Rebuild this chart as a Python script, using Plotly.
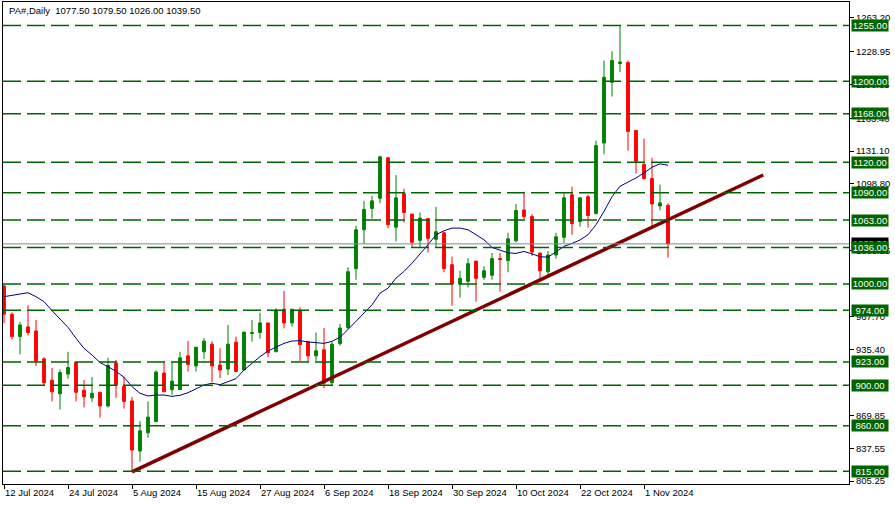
import plotly.graph_objects as go

# ---------------- data ----------------
tick_bars = [0, 8, 16, 24, 32, 40, 48, 56, 64, 72, 80]
tick_labels = ["12 Jul 2024", "24 Jul 2024", "5 Aug 2024", "15 Aug 2024", "27 Aug 2024",
               "6 Sep 2024", "18 Sep 2024", "30 Sep 2024", "10 Oct 2024", "22 Oct 2024", "1 Nov 2024"]

opens = [998, 970, 948, 957.5, 953.5, 926, 905, 891.5, 911, 922.5,
         895, 887.5, 893, 879.5, 922, 899, 884.5, 835, 853, 864,
         912, 895.5, 895.5, 929, 919, 933, 940.5, 920, 916, 942.5,
         915, 951, 952, 961.5, 933, 975, 961.5, 973.5, 943, 929,
         935, 902.5, 941, 957, 1015, 1053.5, 1074.5, 1084.5, 1124.5, 1056,
         1089, 1069, 1043, 1064.5, 1044, 1050.5, 1019, 1000, 1002.5, 1022.5,
         1006.5, 1008.5, 1025, 1023, 1042.5, 1073, 1066.5, 1030.5, 1012, 1028.5,
         1046, 1088, 1061.5, 1086, 1069.5, 1139, 1199, 1217.5, 1218.5, 1151.5,
         1118, 1104, 1077, 1077.5]
highs = [999, 972, 962.5, 979, 964.5, 927.5, 917, 915.5, 933, 922.5,
         905, 908, 893, 927, 925, 908.5, 888.5, 864.5, 884, 914.5,
         924, 923, 933, 943.5, 937.5, 946.5, 943.5, 936.5, 959.5, 948,
         952.5, 964.5, 971.5, 961.5, 976, 993, 975, 977, 943, 952,
         956.5, 942.5, 960.5, 1016.5, 1057.5, 1082, 1087, 1126.5, 1125.5, 1107.5,
         1094, 1069, 1070.5, 1065, 1076, 1051.5, 1027, 1013, 1025.5, 1022.5,
         1017.5, 1030.5, 1030.5, 1050.5, 1079, 1091, 1069, 1030.5, 1032.5, 1050.5,
         1089.5, 1096, 1085, 1088, 1141.5, 1220.5, 1229.5, 1255, 1220.5, 1151.5,
         1143.5, 1124.5, 1098, 1079.5]
lows = [961, 945.5, 930.5, 949, 919, 900, 884, 876, 906.5, 884,
        878, 883.5, 868, 878, 887.5, 877, 814, 824.5, 848, 864,
        893.5, 890.5, 895.5, 913.5, 913.5, 926, 903, 907, 910, 913.5,
        915, 943, 946, 927.5, 933, 956, 958, 924, 922.5, 924,
        897, 899.5, 939, 955, 1004, 1039.5, 1064.5, 1079.5, 1055, 1042,
        1060.5, 1036.5, 1036.5, 1031, 1036.5, 1011.5, 978.5, 986.5, 996.5, 982.5,
        1004, 1004, 992.5, 1011.5, 1041, 1064, 1027.5, 1004, 1008.5, 1025,
        1040.5, 1048.5, 1056.5, 1055.5, 1068.5, 1128, 1185, 1209, 1131.5, 1109,
        1103, 1056.5, 1072.5, 1026]
closes = [970, 948, 959.5, 952, 924, 902.5, 893.5, 912.5, 917.5, 893,
          888.5, 892, 879.5, 919.5, 900, 884, 836, 855, 868.5, 913,
          893.5, 904, 927, 920.5, 937.5, 943.5, 919, 915, 940.5, 913.5,
          952.5, 952, 961.5, 932, 974, 961.5, 975, 940, 929, 934,
          902, 940.5, 956.5, 1012, 1053.5, 1073.5, 1082, 1125.5, 1058.5, 1085,
          1070.5, 1041, 1065, 1045, 1051.5, 1015, 1000, 1005.5, 1020, 1005.5,
          1013, 1025, 1024, 1044.5, 1072.5, 1066.5, 1031.5, 1013, 1028.5, 1046.5,
          1085, 1059.5, 1085, 1067.5, 1136.5, 1204, 1220.5, 1219, 1150.5, 1121,
          1104, 1079, 1080, 1039.5]
ma_values = [987.4, 988.7, 990, 991.3, 987.4, 982.5, 973.6, 965.4, 957.1, 946.3,
             936.4, 929.8, 922.3, 918.3, 913.7, 907.8, 898.6, 892, 889.4, 890.3,
             890.3, 889, 890, 892.6, 896.6, 900.2, 901.9, 900.5, 903.5, 906.5,
             915, 921.6, 928.2, 933.8, 937.4, 941.3, 943.6, 944, 942.7, 942.3,
             941.3, 943.3, 947.3, 955, 963, 970.4, 979.3, 990.8, 995.8, 1005.7,
             1012.3, 1020.5, 1029.4, 1038.6, 1048.5, 1052.5, 1055.1, 1055.1, 1053.5, 1048.5,
             1043.6, 1036, 1033.4, 1030.7, 1030.1, 1032, 1029.7, 1026.8, 1026.4, 1031.4,
             1037, 1040, 1043.3, 1048.5, 1058.4, 1071.6, 1086.1, 1096.4, 1100.3, 1104.6,
             1109.5, 1115.2, 1118.5, 1117.1]

trend_bars = [16, 94.9]
trend_prices = [814.5, 1107.5]

levels = [1255, 1200, 1168, 1120, 1090, 1063, 1036, 1000, 974, 923, 900, 860, 815]
bid_price = 1039.5
price_ticks = [1263.20, 1228.95, 1196.65, 1163.40, 1131.10, 1098.80, 1033.25,
               967.70, 935.40, 869.85, 837.55, 805.25]
title_text = "PA#,Daily&nbsp; 1077.50 1079.50 1026.00 1039.50"

# ---------------- styles ----------------
FONT = "Liberation Sans"
BULL = "#008000"
BEAR = "#FF0000"
LEVEL = "#006400"

bars = list(range(len(opens)))

fig = go.Figure()
fig.add_trace(go.Candlestick(
    x=bars, open=opens, high=highs, low=lows, close=closes,
    increasing=dict(line=dict(color=BULL, width=1), fillcolor=BULL),
    decreasing=dict(line=dict(color=BEAR, width=1), fillcolor=BEAR),
    whiskerwidth=0, showlegend=False, hoverinfo="skip"))
fig.add_trace(go.Scatter(x=bars, y=ma_values, mode="lines",
                         line=dict(color="#000080", width=1), showlegend=False, hoverinfo="skip"))
fig.add_trace(go.Scatter(x=trend_bars, y=trend_prices, mode="lines",
                         line=dict(color="#800000", width=3.5), showlegend=False, hoverinfo="skip"))

shapes = []
for lv in levels:
    shapes.append(dict(type="line", xref="paper", x0=0, x1=1, yref="y", y0=lv, y1=lv,
                       line=dict(color=LEVEL, width=1.5, dash="18px,6px"), layer="above"))
shapes.append(dict(type="line", xref="paper", x0=0, x1=1, yref="y", y0=bid_price, y1=bid_price,
                   line=dict(color="#778899", width=1), layer="above"))

annotations = [dict(xref="paper", yref="y", x=1, y=bid_price, xanchor="left", xshift=2,
                    text=f"{bid_price:.2f}", showarrow=False, bgcolor="#000000",
                    font=dict(family=FONT, size=9.5, color="white"), width=36, height=11, borderpad=0)]
for lv in levels:
    annotations.append(dict(xref="paper", yref="y", x=1, y=lv, xanchor="left", xshift=2,
                            text=f"{lv:.2f}", showarrow=False, bgcolor=LEVEL,
                            font=dict(family=FONT, size=9.5, color="white"),
                            width=36, height=11, borderpad=0))
annotations.append(dict(xref="paper", yref="paper", x=0, y=1, xanchor="left", yanchor="top",
                        xshift=4, yshift=-1, text=title_text, showarrow=False,
                        font=dict(family=FONT, size=9.5, color="black")))

fig.update_layout(
    width=895, height=505,
    margin=dict(l=3, r=46, t=2, b=21),
    paper_bgcolor="white", plot_bgcolor="white",
    boxgap=0.5,
    showlegend=False,
    shapes=shapes, annotations=annotations,
    xaxis=dict(range=[-0.125, 105.625], tickmode="array", tickvals=tick_bars, ticktext=tick_labels,
               ticks="outside", ticklen=4, tickcolor="black", ticklabelposition="outside right",
               showline=True, linecolor="black", linewidth=1, mirror=True,
               showgrid=False, zeroline=False, rangeslider=dict(visible=False),
               tickfont=dict(family=FONT, size=9.5, color="black")),
    yaxis=dict(range=[802.46, 1278.3], side="right", tickmode="array", tickvals=price_ticks,
               ticktext=[f"{v:.2f}" for v in price_ticks],
               ticks="outside", ticklen=4, tickcolor="black",
               showline=True, linecolor="black", linewidth=1, mirror=True,
               showgrid=False, zeroline=False,
               tickfont=dict(family=FONT, size=9.5, color="black")),
)

fig.write_html("out.html", config={"displayModeBar": False},
               post_script="document.body.style.margin='0';document.body.style.padding='0';")
